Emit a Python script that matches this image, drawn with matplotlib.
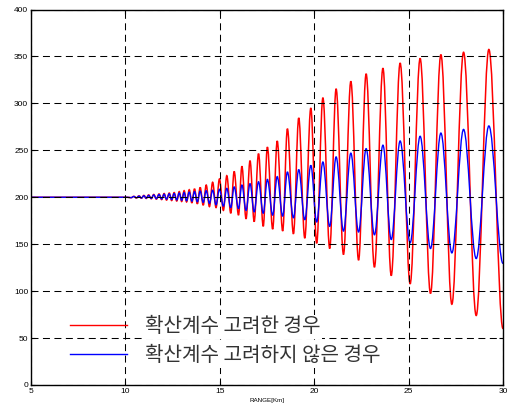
import matplotlib
matplotlib.use("Agg")
import matplotlib.pyplot as plt
from matplotlib.path import Path
from matplotlib.patches import PathPatch
from matplotlib.lines import Line2D
from matplotlib.font_manager import FontProperties

# 평탄 구간
flat_x = [5.0, 10.1]
flat_y = [200, 200]

# 극점 위치 (RANGE, km)
trough_x = [10.3, 10.58, 10.85, 11.1, 11.37, 11.64, 11.92, 12.18, 12.45, 12.72,
            12.98, 13.24, 13.52, 13.81, 14.12, 14.45, 14.8, 15.19, 15.58, 15.99,
            16.39, 16.82, 17.3, 17.8, 18.33, 18.9, 19.5, 20.13, 20.82, 21.55,
            22.35, 23.19, 24.08, 25.08, 26.16, 27.29, 28.58]
peak_x = [10.45, 10.72, 10.98, 11.23, 11.5, 11.78, 12.05, 12.32, 12.58, 12.85,
          13.11, 13.38, 13.66, 13.96, 14.28, 14.62, 14.98, 15.37, 15.76, 16.17,
          16.6, 17.05, 17.52, 18.04, 18.58, 19.18, 19.82, 20.46, 21.16, 21.94,
          22.75, 23.64, 24.55, 25.61, 26.71, 27.91, 29.25]
end_x = 30.0

# 확산계수 고려한 경우 (red)
red_trough = [199.5, 199.2, 199.0, 198.7, 198.4, 198.0, 197.5, 197.0, 196.5, 196.0,
              195.5, 195.0, 194.0, 193.0, 191.5, 190.0, 189.0, 186.0, 183.0, 181.0,
              177.0, 174.0, 169.0, 166.0, 164.0, 161.0, 156.5, 151.0, 145.4, 139.0,
              133.0, 125.5, 116.5, 107.7, 97.5, 86.0, 74.0]
red_peak = [201.0, 201.5, 202.0, 202.5, 203.0, 203.5, 204.0, 204.5, 205.0, 206.0,
            207.0, 208.0, 209.0, 210.5, 213.0, 216.0, 219.5, 223.0, 227.5, 233.0,
            239.0, 246.5, 253.5, 260.0, 273.0, 284.5, 295.0, 306.0, 315.5, 323.5,
            331.5, 337.5, 343.0, 348.0, 352.0, 354.5, 357.5]
red_end = 60.0

# 확산계수 고려하지 않은 경우 (blue)
blue_trough = [199.6, 199.4, 199.2, 199.0, 198.8, 198.5, 198.2, 198.0, 197.6, 197.2,
               196.8, 196.3, 195.8, 195.2, 194.5, 193.5, 192.0, 190.5, 189.0, 188.0,
               186.0, 184.5, 183.0, 181.0, 180.0, 178.0, 176.0, 173.7, 169.0, 164.0,
               163.0, 160.0, 155.0, 151.4, 145.4, 140.7, 134.7]
blue_peak = [200.8, 201.2, 201.6, 202.0, 202.5, 203.0, 203.3, 203.7, 204.0, 204.5,
             205.0, 205.5, 206.0, 206.5, 207.0, 207.5, 208.5, 209.5, 211.0, 213.0,
             214.5, 216.5, 219.0, 222.0, 227.0, 229.5, 234.0, 237.6, 243.0, 247.0,
             251.8, 255.5, 260.0, 265.0, 268.4, 272.3, 276.0]
blue_end = 129.5

labels = ['확산계수 고려한 경우', '확산계수 고려하지 않은 경우']


def wave_path(troughs, peaks, end_y, k=0.363):
    xs, ys = [], []
    for tx, ty, px_, py_ in zip(trough_x, troughs, peak_x, peaks):
        xs += [tx, px_]
        ys += [ty, py_]
    xs.append(end_x)
    ys.append(end_y)
    verts = [(flat_x[0], flat_y[0]), (flat_x[1], flat_y[1])]
    codes = [Path.MOVETO, Path.LINETO]
    x0, y0 = flat_x[1], flat_y[1]
    for x, y in zip(xs, ys):
        dx = x - x0
        verts += [(x0 + k * dx, y0), (x - k * dx, y), (x, y)]
        codes += [Path.CURVE4] * 3
        x0, y0 = x, y
    return Path(verts, codes)


fig = plt.figure(figsize=(5.10, 4.09), dpi=100)
ax = fig.add_axes([0.0608, 0.0587, 0.9255, 0.918])

ax.add_patch(PathPatch(wave_path(red_trough, red_peak, red_end), fill=False,
                       edgecolor='#ff0000', lw=1.1, zorder=2))
ax.add_patch(PathPatch(wave_path(blue_trough, blue_peak, blue_end), fill=False,
                       edgecolor='#0000ff', lw=1.0, zorder=2.1))

ax.set_xlim(5, 30)
ax.set_ylim(0, 400)
ax.set_xticks(range(5, 31, 5))
ax.set_yticks(range(0, 401, 50))

ax.set_axisbelow(False)
ax.grid(True, color='black', lw=0.75, linestyle=(0, (6.7, 4.3)))
ax.tick_params(direction='in', length=3, width=0.8, top=True, right=True,
               labelsize=6, pad=2)
for lab in ax.get_xticklabels() + ax.get_yticklabels():
    lab.set_family('Liberation Sans')
for s in ax.spines.values():
    s.set_linewidth(1.0)

ax.set_xlabel('RANGE[Km]', fontsize=4.5, family='Liberation Sans', labelpad=2)

handles = [Line2D([], [], color='#ff0000', lw=1.0),
           Line2D([], [], color='#0000ff', lw=1.0)]
leg = ax.legend(handles, labels, loc='lower left', bbox_to_anchor=(0.083, 0.05),
                frameon=False, borderpad=0, borderaxespad=0,
                handlelength=2.8, handletextpad=0.9, labelspacing=0.4,
                prop=FontProperties(family='Noto Sans CJK KR', size=14.5))
for t in leg.get_texts():
    t.set_color('#333333')
    t.set_bbox(dict(facecolor='white', edgecolor='none', pad=1))

fig.savefig('out.png', dpi=100)
